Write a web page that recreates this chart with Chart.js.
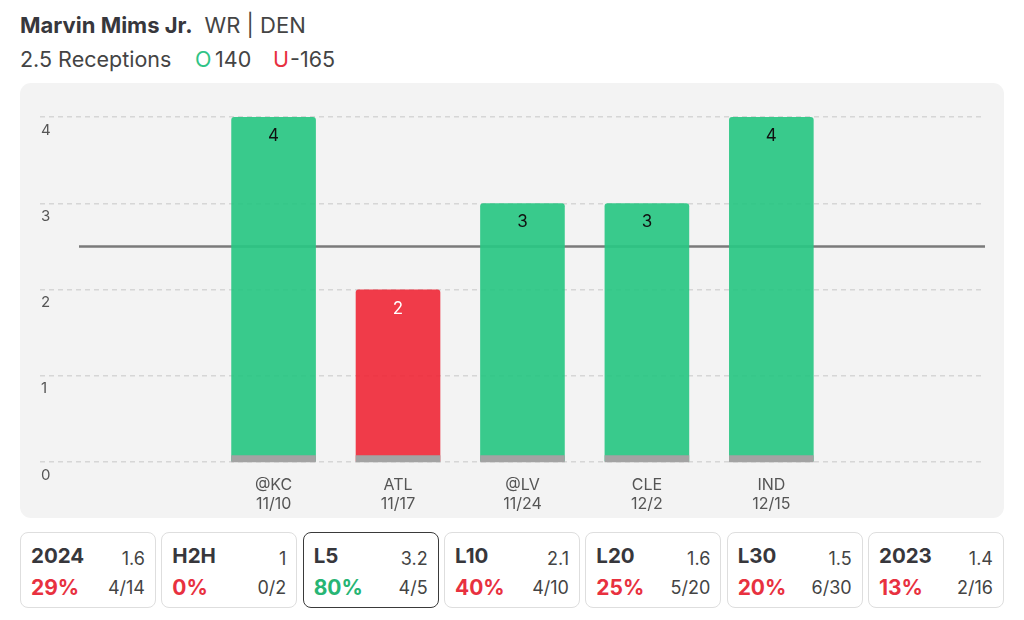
<!DOCTYPE html>
<html>
<head>
<meta charset="utf-8">
<script src="https://cdn.jsdelivr.net/npm/chart.js@4.4.1/dist/chart.umd.min.js"></script>
<style>
  html, body { margin: 0; padding: 0; background: #ffffff; }
  body { width: 1024px; height: 620px; position: relative; overflow: hidden; font-family: Inter, "Noto Sans", sans-serif; color: #3a3a3f; }
  #title { position: absolute; left: 20px; top: 11px; font-size: 22px; white-space: nowrap; line-height: 28px; }
  #title b { font-weight: 700; color: #37373c; }
  #title span { color: #444; margin-left: 12px; }
  #sub { position: absolute; left: 20px; top: 45px; font-size: 21.5px; color: #444; white-space: nowrap; line-height: 28px; }
  #sub span { position: absolute; top: 0; }
  #sub .o { color: #2fc486; left: 175px; }
  #sub .u { color: #e8313f; left: 253px; }
  #panel { position: absolute; left: 20px; top: 83px; width: 984px; height: 435px; background: #f3f3f3; border-radius: 11px; }
  #wrap { position: absolute; left: 20px; top: 83px; width: 984px; height: 435px; }
  .box { position: absolute; top: 532px; width: 134px; height: 74px; border: 1.5px solid #dedede; border-radius: 8px; background: #fff; }
  .box.sel { border-color: #3a3a3a; }
  .box .lab { position: absolute; left: 10px; top: 10px; font-size: 20.5px; font-weight: 700; color: #37373c; }
  .box .avg { position: absolute; right: 10px; top: 15px; font-size: 18px; color: #444; }
  .box .pct { position: absolute; left: 10px; top: 42px; font-size: 21px; font-weight: 700; }
  .box .frac { position: absolute; right: 10px; top: 44px; font-size: 18px; color: #444; }
</style>
</head>
<body>
<div id="title"><b>Marvin Mims Jr.</b><span>WR | DEN</span></div>
<div id="sub">2.5 Receptions<span class="o">O</span><span style="left:195px">140</span><span class="u">U</span><span style="left:270px">-165</span></div>
<div id="panel"></div>
<div id="wrap"><canvas id="c" width="984" height="435"></canvas></div>
<div id="boxes"></div>
<script>
// ---- data ----
const opponents = ['@KC', 'ATL', '@LV', 'CLE', 'IND'];
const gameDates = ['11/10', '11/17', '11/24', '12/2', '12/15'];
const receptions = [4, 2, 3, 3, 4];
const propLine = 2.5;
const yTicks = [0, 1, 2, 3, 4];

const statLabels = ['2024', 'H2H', 'L5', 'L10', 'L20', 'L30', '2023'];
const statAvgs = ['1.6', '1', '3.2', '2.1', '1.6', '1.5', '1.4'];
const statPcts = [29, 0, 80, 40, 25, 20, 13];
const statFracs = ['4/14', '0/2', '4/5', '4/10', '5/20', '6/30', '2/16'];
const selectedStat = 'L5';

// ---- stat boxes ----
const boxes = document.getElementById('boxes');
statLabels.forEach((lab, i) => {
  const d = document.createElement('div');
  d.className = 'box' + (lab === selectedStat ? ' sel' : '');
  d.style.left = (20 + i * 141.33) + 'px';
  const col = statPcts[i] >= 50 ? '#27b574' : '#e8313f';
  d.innerHTML = `<div class="lab">${lab}</div><div class="avg">${statAvgs[i]}</div>` +
    `<div class="pct" style="color:${col}">${statPcts[i]}%</div><div class="frac">${statFracs[i]}</div>`;
  boxes.appendChild(d);
});

// ---- chart ----
const GREEN = 'rgba(42,198,131,0.93)';
const RED = 'rgba(239,44,59,0.93)';

const refLinePlugin = {
  id: 'refLine',
  beforeDatasetsDraw(chart) {
    const { ctx, chartArea, scales } = chart;
    const y = scales.y.getPixelForValue(propLine);
    ctx.save();
    ctx.strokeStyle = '#7a7a7a';
    ctx.lineWidth = 2.5;
    ctx.beginPath();
    ctx.moveTo(chartArea.left + 39, y);
    ctx.lineTo(chartArea.right, y);
    ctx.stroke();
    ctx.restore();
  }
};

const barDecor = {
  id: 'barDecor',
  afterDatasetsDraw(chart) {
    const { ctx } = chart;
    const meta = chart.getDatasetMeta(0);
    ctx.save();
    meta.data.forEach((bar, i) => {
      const p = bar.getProps(['x', 'y', 'base', 'width'], true);
      const w = p.width;
      ctx.fillStyle = '#a3a3a3';
      ctx.fillRect(p.x - w / 2, p.base - 6, w, 7);
      ctx.fillStyle = receptions[i] > propLine ? '#111111' : '#ffffff';
      ctx.font = '17px Inter, "Noto Sans", sans-serif';
      ctx.textAlign = 'center';
      ctx.textBaseline = 'middle';
      ctx.fillText(String(receptions[i]), p.x, p.y + 19);
    });
    ctx.restore();
  }
};

new Chart(document.getElementById('c'), {
  type: 'bar',
  data: {
    datasets: [{
      data: receptions.map((v, i) => ({ x: i, y: v })),
      backgroundColor: receptions.map(v => v > propLine ? GREEN : RED),
      borderRadius: { topLeft: 3, topRight: 3 },
      borderSkipped: 'start',
      barPercentage: 0.68,
      categoryPercentage: 1
    }]
  },
  options: {
    responsive: false,
    animation: false,
    layout: { padding: { left: 18, right: 19, top: 34, bottom: 0 } },
    plugins: { legend: { display: false }, tooltip: { enabled: false } },
    scales: {
      x: {
        type: 'linear',
        min: -1.877,
        max: 5.717,
        offset: false,
        grid: { display: false, drawTicks: false },
        border: { display: false },
        afterBuildTicks: s => { s.ticks = opponents.map((_, i) => ({ value: i })); },
        afterFit: s => { s.height = 56; },
        ticks: {
          autoSkip: false,
          maxRotation: 0,
          padding: 13,
          color: '#555',
          font: { family: 'Inter, "Noto Sans", sans-serif', size: 16, lineHeight: 1.22 },
          callback: v => [opponents[v], gameDates[v]]
        }
      },
      y: {
        min: 0,
        max: 4,
        afterBuildTicks: s => { s.ticks = yTicks.map(v => ({ value: v })); },
        grid: { color: '#d6d6d6', lineWidth: 1.5, drawTicks: false },
        border: { display: false, dash: [5, 4] },
        ticks: {
          mirror: true,
          padding: 1,
          labelOffset: 13,
          color: '#555',
          font: { family: 'Inter, "Noto Sans", sans-serif', size: 15 }
        }
      }
    }
  },
  plugins: [refLinePlugin, barDecor]
});
</script>
</body>
</html>
